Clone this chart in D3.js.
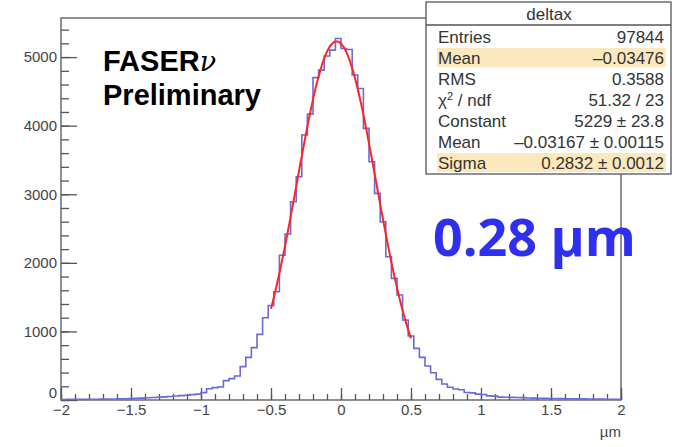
<!DOCTYPE html>
<html>
<head>
<meta charset="utf-8">
<script src="https://cdn.jsdelivr.net/npm/d3@7"></script>
<style>
  body { margin: 0; background: #fff; }
  svg { display: block; }
</style>
</head>
<body>
<svg id="svg" width="679" height="447"></svg>
<script>
// histogram deltax: 100 bins from -2 to 2 (width 0.04), counts
const xMin = -2;
const binWidth = 0.04;
const counts = [
  8, 9, 10, 9, 11, 12, 11, 13, 14, 15, 16, 18, 20,
  25, 28, 32, 36, 40, 45,
  52, 58, 64, 70, 78, 85,
  107, 165, 180, 190, 282, 311, 350, 486, 622, 763, 957, 1200,
  1378, 1579, 2110, 2420, 2891, 3256, 3863, 4169, 4700, 4810, 5015, 5102, 5272,
  5126, 5110, 4738, 4543, 3960, 3474, 3013, 2600, 2089, 1774, 1531, 1166,
  933, 753, 622, 496, 398, 301, 233, 185, 160, 150, 110, 104, 85, 80, 60, 56,
  42, 40, 38, 36, 35,
  30, 28, 26, 24, 22, 21, 20, 19, 18, 17, 16, 15, 14, 13, 12, 11, 10
];

// gaussian fit, parameters as in the stats box
const fitConst = 5229;
const fitMean = -0.03167;
const fitSigma = 0.2832;
const fitRange = [-0.5, 0.5];

const yTicks = [0, 1000, 2000, 3000, 4000, 5000];
const xTicks = [-2, -1.5, -1, -0.5, 0, 0.5, 1, 1.5, 2];

const statsTitle = 'deltax';
const statsRows = [
  ['Entries', '97844', false],
  ['Mean', '\u20130.03476', true],
  ['RMS', '0.3588', false],
  ['chi', '51.32 / 23', false],
  ['Constant', '5229 \u00b1 23.8', false],
  ['Mean', '\u20130.03167 \u00b1 0.00115', false],
  ['Sigma', '0.2832 \u00b1 0.0012', true]
];

const svg = d3.select('#svg');

const x = d3.scaleLinear().domain([-2, 2]).range([61, 621]);
const y = d3.scaleLinear().domain([0, 5570]).range([400, 18]);

const axisColor = '#555';
const labelFont = 'Liberation Sans, Arial, sans-serif';

// frame
svg.append('rect')
  .attr('x', 61).attr('y', 18)
  .attr('width', 560).attr('height', 382)
  .attr('fill', 'none')
  .attr('stroke', axisColor)
  .attr('stroke-width', 1.3);

// y axis (ticks point inward)
const yMinor = svg.append('g').attr('transform', 'translate(61,0)')
  .call(d3.axisLeft(y).tickValues(d3.range(0, 5570, 200)).tickSize(-8).tickFormat(''));
const yMajor = svg.append('g').attr('transform', 'translate(61,0)')
  .call(d3.axisLeft(y).tickValues(yTicks).tickSize(-16).tickPadding(4).tickFormat(d3.format('d')));

// x axis
const xMinor = svg.append('g').attr('transform', 'translate(0,400)')
  .call(d3.axisBottom(x).tickValues(d3.range(-20, 21).map(d => d / 10)).tickSize(-6).tickFormat(''));
const xMajor = svg.append('g').attr('transform', 'translate(0,400)')
  .call(d3.axisBottom(x).tickValues(xTicks).tickSize(-12).tickPadding(4)
    .tickFormat(d => d3.format('')(d).replace('-', '\u2013')));

[yMinor, yMajor, xMinor, xMajor].forEach(g => {
  g.select('.domain').remove();
  g.selectAll('line').attr('stroke', axisColor).attr('stroke-width', 1.3);
  g.selectAll('text')
    .attr('fill', '#444')
    .style('font-family', labelFont)
    .style('font-size', '15px');
});
// lift the y "0" a little so it clears the x labels
yMajor.selectAll('.tick text').filter(d => d === 0).attr('dy', '-0.17em');

svg.append('text')
  .attr('x', 621).attr('y', 437)
  .attr('text-anchor', 'end')
  .attr('fill', '#444')
  .style('font-family', labelFont)
  .style('font-size', '15px')
  .text('\u00b5m');

// histogram outline
const steps = counts.map((c, i) => [xMin + i * binWidth, c]);
steps.push([xMin + counts.length * binWidth, counts[counts.length - 1]]);
const stepLine = d3.line()
  .x(d => x(d[0]))
  .y(d => y(d[1]))
  .curve(d3.curveStepAfter);
svg.append('path')
  .datum(steps)
  .attr('d', stepLine)
  .attr('fill', 'none')
  .attr('stroke', '#6a6adc')
  .attr('stroke-width', 1.6);

// fit curve
const fitPts = d3.range(fitRange[0], fitRange[1] + 1e-9, 0.005).map(v =>
  [v, fitConst * Math.exp(-0.5 * Math.pow((v - fitMean) / fitSigma, 2))]);
svg.append('path')
  .datum(fitPts)
  .attr('d', d3.line().x(d => x(d[0])).y(d => y(d[1])).curve(d3.curveLinear))
  .attr('fill', 'none')
  .attr('stroke', '#ff2424')
  .attr('stroke-width', 2);

// FASER nu Preliminary
const bigFont = 'Liberation Sans, Arial, sans-serif';
const lbl = svg.append('text')
  .attr('x', 103).attr('y', 71)
  .attr('fill', '#000')
  .style('font-family', bigFont)
  .style('font-weight', 'bold')
  .style('font-size', '29px');
lbl.append('tspan').text('FASER');
lbl.append('tspan')
  .style('font-family', 'DejaVu Serif, serif')
  .style('font-style', 'italic')
  .style('font-weight', 'normal')
  .style('font-size', '27px')
  .text('\u03bd');
svg.append('text')
  .attr('x', 103).attr('y', 105)
  .attr('fill', '#000')
  .style('font-family', bigFont)
  .style('font-weight', 'bold')
  .style('font-size', '29px')
  .text('Preliminary');

// resolution label
svg.append('text')
  .attr('x', 433).attr('y', 256)
  .attr('fill', '#2f2ff0')
  .style('font-family', 'Open Sans, sans-serif')
  .style('font-weight', 'bold')
  .style('font-size', '52px')
  .text('0.28 \u03bcm');

// stats box
const box = svg.append('g');
box.append('rect')
  .attr('x', 426).attr('y', 2)
  .attr('width', 245).attr('height', 172)
  .attr('fill', '#fff')
  .attr('stroke', axisColor)
  .attr('stroke-width', 1.3);
box.append('line')
  .attr('x1', 426).attr('x2', 671)
  .attr('y1', 25).attr('y2', 25)
  .attr('stroke', axisColor)
  .attr('stroke-width', 1.3);
box.append('text')
  .attr('x', 549).attr('y', 20)
  .attr('text-anchor', 'middle')
  .attr('fill', '#333')
  .style('font-family', labelFont)
  .style('font-size', '17px')
  .text(statsTitle);

const rowY = d3.scaleLinear().domain([0, 6]).range([43, 169]);
statsRows.forEach((r, i) => {
  const base = rowY(i);
  if (r[2]) {
    box.append('rect')
      .attr('x', 437).attr('y', base - 16)
      .attr('width', 229).attr('height', 19)
      .attr('fill', '#fce8bd');
  }
  const t = box.append('text')
    .attr('x', 438).attr('y', base)
    .attr('fill', '#333')
    .style('font-family', labelFont)
    .style('font-size', '17px');
  if (r[0] === 'chi') {
    t.append('tspan').text('\u03c7');
    t.append('tspan').attr('dy', -6).style('font-size', '11px').text('2');
    t.append('tspan').attr('dy', 6).text(' / ndf');
  } else {
    t.text(r[0]);
  }
  box.append('text')
    .attr('x', 664).attr('y', base)
    .attr('text-anchor', 'end')
    .attr('fill', '#333')
    .style('font-family', labelFont)
    .style('font-size', '17px')
    .text(r[1]);
});
</script>
</body>
</html>
